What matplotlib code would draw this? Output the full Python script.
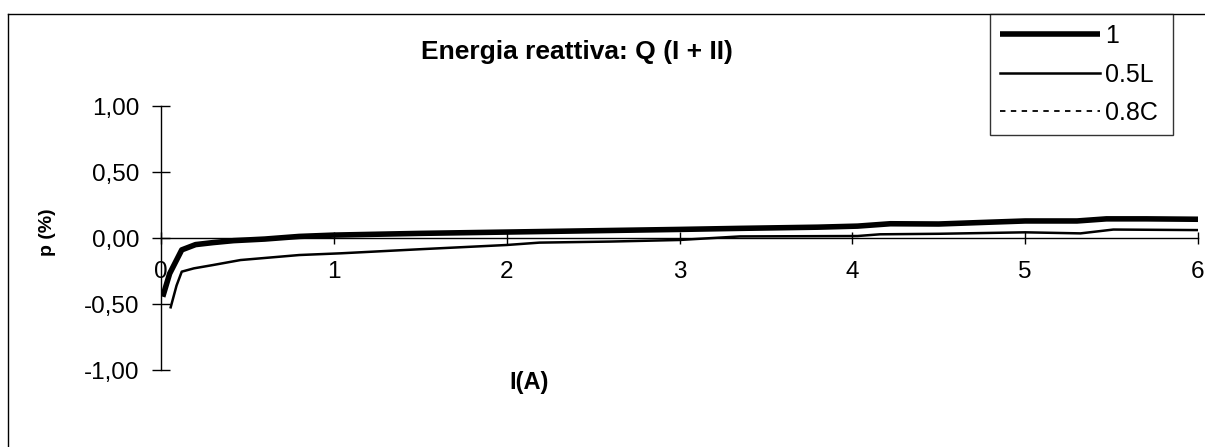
import matplotlib
matplotlib.use("Agg")
import matplotlib.pyplot as plt
from matplotlib.lines import Line2D
from matplotlib.ticker import FixedLocator, FuncFormatter

plt.rcParams['font.family'] = ['Liberation Sans', 'DejaVu Sans']

# Data
title = "Energia reattiva: Q (I + II)"
xlabel = "I(A)"
ylabel = "p (%)"
series_labels = ["1", "0.5L", "0.8C"]

x_pf1 = [0.01, 0.05, 0.12, 0.2, 0.3, 0.42, 0.6, 0.8, 1.0, 1.5, 2.0, 2.5, 3.0,
         3.35, 3.8, 4.03, 4.22, 4.5, 4.8, 5.0, 5.3, 5.47, 5.7, 6.0]
y_pf1 = [-0.445, -0.27, -0.09, -0.05, -0.035, -0.02, -0.008, 0.012, 0.022,
         0.035, 0.045, 0.055, 0.065, 0.073, 0.082, 0.09, 0.108, 0.106, 0.12,
         0.129, 0.129, 0.145, 0.145, 0.142]

x_05L = [0.056, 0.09, 0.12, 0.19, 0.3, 0.46, 0.8, 1.04, 1.5, 2.0, 2.19, 2.6,
         3.0, 3.35, 4.03, 4.16, 4.5, 5.0, 5.32, 5.51, 6.0]
y_05L = [-0.525, -0.36, -0.255, -0.23, -0.205, -0.167, -0.129, -0.116, -0.085,
         -0.053, -0.035, -0.027, -0.015, 0.012, 0.015, 0.028, 0.032, 0.043,
         0.035, 0.064, 0.06]

# 0.8C series is not visible in the plot area (only in the legend)
x_08C = []
y_08C = []

xticks = [0, 1, 2, 3, 4, 5, 6]
yticks = [-1.0, -0.5, 0.0, 0.5, 1.0]

W, H = 1205, 447
fig = plt.figure(figsize=(W / 100, H / 100), dpi=100)
ax = fig.add_axes([161 / W, (H - 370) / H, (1198 - 161) / W, 264 / H])

ax.plot(x_pf1, y_pf1, color='black', lw=4.0, solid_capstyle='butt',
        solid_joinstyle='round', label=series_labels[0], zorder=3)
ax.plot(x_05L, y_05L, color='black', lw=1.8, solid_joinstyle='round',
        label=series_labels[1], zorder=3)
ax.plot(x_08C, y_08C, color='black', lw=1.3, ls=(0, (3, 3)),
        label=series_labels[2], zorder=3)

ax.set_xlim(0, 6)
ax.set_ylim(-1, 1)

ax.spines['top'].set_visible(False)
ax.spines['right'].set_visible(False)
ax.spines['bottom'].set_position(('data', 0))
ax.spines['bottom'].set_linewidth(1.0)
ax.spines['left'].set_linewidth(1.0)

ax.xaxis.set_major_locator(FixedLocator(xticks))
ax.yaxis.set_major_locator(FixedLocator(yticks))
ax.xaxis.set_major_formatter(FuncFormatter(lambda v, p: f"{v:g}"))
ax.yaxis.set_major_formatter(
    FuncFormatter(lambda v, p: f"{v:.2f}".replace('.', ',')))

ax.tick_params(axis='x', direction='inout', length=9, width=1.0,
               labelsize=17.5, pad=12)
ax.tick_params(axis='y', direction='inout', length=13, width=1.0,
               labelsize=17.5, pad=9)

fig.text(529 / W, 1 - 383 / H, xlabel, fontsize=17, fontweight='bold',
         ha='center', va='center')
fig.text(48 / W, 1 - 232 / H, ylabel, fontsize=14, fontweight='bold',
         ha='center', va='center', rotation=90)
fig.text(577 / W, 1 - 52 / H, title, fontsize=19, fontweight='bold',
         ha='center', va='center')

# Outer frame (left and top edges visible)
fig.add_artist(Line2D([8 / W, 8 / W], [0, 1 - 14 / H], color='black', lw=1.0,
                      transform=fig.transFigure))
fig.add_artist(Line2D([8 / W, 1], [1 - 14 / H, 1 - 14 / H], color='black',
                      lw=1.0, transform=fig.transFigure))

leg = fig.legend(loc='upper left',
                 bbox_to_anchor=(990 / W, 1 - 132 / H, (1173 - 990) / W,
                                 (132 - 14) / H),
                 mode='expand', borderaxespad=0, frameon=True, fancybox=False,
                 edgecolor='black', fontsize=18, handlelength=4.0,
                 handletextpad=0.2, labelspacing=0.58, borderpad=0.4)
leg.get_frame().set_linewidth(1.0)

fig.savefig("out.png", dpi=100)
